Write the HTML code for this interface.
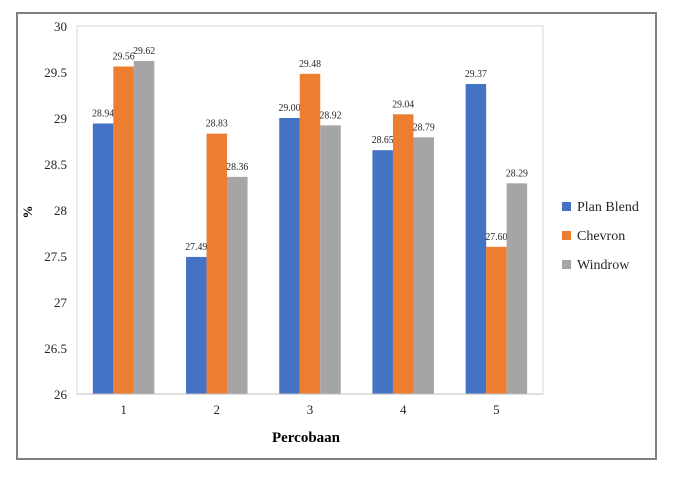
<!DOCTYPE html>
<html><head><meta charset="utf-8"><style>
body{margin:0;background:#fff;}
svg{display:block;font-family:"Liberation Serif",serif;}
</style></head><body>
<svg id="chart" width="677" height="477">
<rect x="17" y="13" width="639" height="446" fill="#fff" stroke="#7f7f7f" stroke-width="2"/>
<rect x="77" y="26" width="466" height="368" fill="#fff" stroke="#d9d9d9"/>
<g id="bars"></g><g id="axes"></g>
<text x="306" y="442" font-size="15" font-weight="bold" text-anchor="middle">Percobaan</text>
<text x="32" y="212" font-size="13" text-anchor="middle" transform="rotate(-90 32 212)" font-weight="bold">%</text>
<g id="legend"></g>
</svg>
<script>
const categories=["1","2","3","4","5"];
const seriesNames=["Plan Blend","Chevron","Windrow"];
const planBlend=[28.94,27.49,29.00,28.65,29.37];
const chevron=[29.56,28.83,29.48,29.04,27.60];
const windrow=[29.62,28.36,28.92,28.79,28.29];
const yTicks=[26,26.5,27,27.5,28,28.5,29,29.5,30];
const colors=["#4472c4","#ed7d31","#a5a5a5"];
const NS="http://www.w3.org/2000/svg";
const X0=77,X1=543,Y0=394,Y1=26,YMIN=26,YMAX=30;
const y=v=>Y0-(v-YMIN)/(YMAX-YMIN)*(Y0-Y1);
const band=(X1-X0)/categories.length;
const bw=band*0.22;
const x=i=>X0+band*(i+0.5);
function mk(t,a,p){const e=document.createElementNS(NS,t);for(const k in a)e.setAttribute(k,a[k]);p.appendChild(e);return e;}
const bars=document.getElementById('bars'),axes=document.getElementById('axes'),legend=document.getElementById('legend');
const series=[planBlend,chevron,windrow];
series.forEach((s,si)=>{s.forEach((v,i)=>{
 const bx=x(i)-1.5*bw+si*bw;
 const r=mk('rect',{x:bx,y:y(v),width:bw,height:Y0-y(v),fill:colors[si]},bars);
 
 
 const t=mk('text',{x:bx+bw/2,y:y(v)-7,'font-size':11,'text-anchor':'middle',fill:'#262626',textLength:22,lengthAdjust:'spacingAndGlyphs'},bars);
 t.textContent=v.toFixed(2);
 
 
});});
yTicks.forEach(v=>{const t=mk('text',{x:67,y:y(v)+5,'font-size':13,'text-anchor':'end',fill:'#262626'},axes);t.textContent=String(v);

});
categories.forEach((c,i)=>{const t=mk('text',{x:x(i),y:414,'font-size':13,'text-anchor':'middle',fill:'#262626'},axes);t.textContent=c;

});
mk('line',{x1:X0,y1:Y0,x2:X1,y2:Y0,stroke:'#bfbfbf'},axes);
seriesNames.forEach((n,i)=>{const ly=207+i*29;
const r=mk('rect',{x:562,y:ly-5,width:9,height:9,fill:colors[i]},legend);


const t=mk('text',{x:577,y:ly+4,'font-size':14,fill:'#262626'},legend);t.textContent=n;

});
</script>
</body></html>
